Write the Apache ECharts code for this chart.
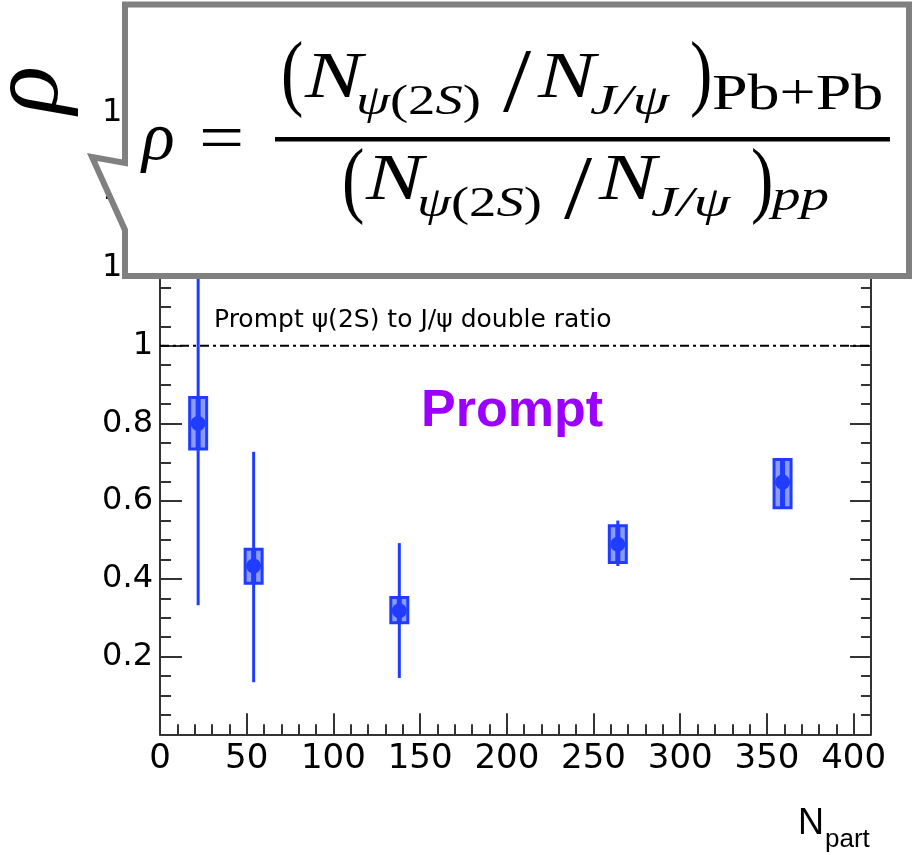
<!DOCTYPE html>
<html>
<head>
<meta charset="utf-8">
<script src="https://cdn.jsdelivr.net/npm/echarts@6/dist/echarts.min.js"></script>
<style>
  html, body { margin: 0; padding: 0; background: #fff; }
  #chart { width: 912px; height: 855px; }
</style>
</head>
<body>
<div id="chart"></div>
<script>
// Prompt psi(2S) to J/psi double ratio versus centrality (N_part)
const npart    = [22, 54, 138, 264, 359];
const rho      = [0.800, 0.433, 0.318, 0.489, 0.649];
// statistical uncertainty (vertical bar ends)
const statLow  = [0.332, 0.134, 0.145, 0.433, 0.600];
const statHigh = [1.270, 0.727, 0.492, 0.550, 0.698];
// systematic uncertainty (box ends)
const sysLow   = [0.734, 0.389, 0.287, 0.442, 0.583];
const sysHigh  = [0.867, 0.476, 0.352, 0.537, 0.707];

const xTickValues = [0, 50, 100, 150, 200, 250, 300, 350, 400];
const xTickLabels = ['0', '50', '100', '150', '200', '250', '300', '350', '400'];
const yTickValues = [0.2, 0.4, 0.6, 0.8, 1.0, 1.2, 1.4, 1.6];
const yTickLabels = ['0.2', '0.4', '0.6', '0.8', '1', '1.2', '1.4', '1.6'];

const refLevel = 1;
const xRange = [0, 410];
const yRange = [0, 1.7];

const DARK = '#1f3cff';
const LIGHT = '#8c9bff';
const AXIS = '#333';

function tickFormatter(values, labels) {
  return function (v) {
    const i = values.findIndex(t => Math.abs(t - v) < 1e-6);
    return i >= 0 ? labels[i] : '';
  };
}

const points = npart.map((n, i) => [n, rho[i], statLow[i], statHigh[i], sysLow[i], sysHigh[i]]);
const refLine = [[xRange[0], refLevel], [xRange[1], refLevel]];

function renderPoint(params, api) {
  const x = api.value(0);
  const c = api.coord([x, api.value(1)]);
  const sLo = api.coord([x, api.value(2)]);
  const sHi = api.coord([x, api.value(3)]);
  const bLo = api.coord([x, api.value(4)]);
  const bHi = api.coord([x, api.value(5)]);
  const hw = 8.5;
  return {
    type: 'group',
    children: [
      { type: 'rect', shape: { x: c[0] - hw, y: bHi[1], width: 2 * hw, height: bLo[1] - bHi[1] },
        style: { fill: LIGHT, stroke: DARK, lineWidth: 3 } },
      { type: 'line', shape: { x1: c[0], y1: sHi[1], x2: c[0], y2: sLo[1] },
        style: { stroke: DARK, lineWidth: 3 } },
      { type: 'line', shape: { x1: c[0], y1: bHi[1], x2: c[0], y2: bLo[1] },
        style: { stroke: DARK, lineWidth: 5 } },
      { type: 'circle', shape: { cx: c[0], cy: c[1], r: 7.5 }, style: { fill: DARK } }
    ]
  };
}

// text piece placed by its left edge and baseline
function piece(text, x, baseline, size, opts) {
  opts = opts || {};
  const family = opts.family || '"Liberation Serif"';
  const fontStyle = opts.italic ? 'italic ' : '';
  const weight = opts.bold ? 'bold ' : '';
  const mid = opts.mid != null ? opts.mid : 0.34;
  const el = {
    type: 'text',
    x: x,
    y: baseline - mid * size,
    scaleX: opts.sx || 1,
    z: 102,
    style: {
      text: text,
      font: fontStyle + weight + size + 'px ' + family,
      fill: opts.color || '#000',
      align: opts.align || 'left',
      textAlign: opts.align || 'left',
      verticalAlign: 'middle',
      textVerticalAlign: 'middle'
    }
  };
  if (opts.rich) {
    el.style.rich = opts.rich;
  }
  return el;
}

const SX = 1.3;
function subPsi2S(x, base) {
  return piece('{i|ψ}{u|(2}{i|S}{u|)}', x, base, 42, {
    sx: SX,
    rich: {
      i: { fontFamily: 'Liberation Serif', fontStyle: 'italic', fontSize: 42, fill: '#000' },
      u: { fontFamily: 'Liberation Serif', fontSize: 42, fill: '#000' }
    }
  });
}

function ratioRow(dx, dy, parenDy, tail) {
  const els = [
    piece('(', 281 + dx, 106 + dy + parenDy, 84, { sx: 0.8 }),
    piece('N', 305 + dx, 102 + dy, 66, { italic: true, sx: SX }),
    subPsi2S(356 + dx, 117 + dy),
    piece('/', 503 + dx, 118 + dy + parenDy, 92, { sx: 1.1 }),
    piece('N', 538 + dx, 102 + dy, 66, { italic: true, sx: SX }),
    piece('J/ψ', 590 + dx, 117 + dy, 42, { italic: true, sx: 1.4 }),
    piece(')', 690 + dx, 106 + dy + parenDy, 84, { sx: 0.8 })
  ];
  return els.concat(tail);
}

const formula = [].concat(
  [
    piece('ρ', 142, 164, 68, { italic: true }),
    piece('=', 199, 165, 68, { sx: 1.18 }),
    { type: 'rect', z: 102, shape: { x: 275, y: 137, width: 615, height: 4.5 }, style: { fill: '#000' } }
  ],
  ratioRow(0, 0, 0, [piece('Pb+Pb', 712, 113, 50, { sx: 1.28 })]),
  ratioRow(61, 102, 5, [piece('pp', 772, 213, 44, { italic: true, sx: SX })])
);

const callout = {
  type: 'polygon',
  z: 100,
  shape: {
    points: [[125, 4.5], [909, 4.5], [909, 276], [125, 276], [125, 230], [92, 157], [125, 163]]
  },
  style: { fill: '#fff', stroke: '#808080', lineWidth: 6, lineJoin: 'miter' }
};

const chart = echarts.init(document.getElementById('chart'), null, { renderer: 'canvas' });

chart.setOption({
  animation: false,
  backgroundColor: '#fff',
  grid: { left: 160, right: 41, top: 73.7, bottom: 120.7, containLabel: false },
  xAxis: {
    type: 'value',
    min: xRange[0], max: xRange[1], interval: 50,
    axisLine: { show: true, lineStyle: { color: AXIS, width: 2 } },
    axisTick: { show: true, inside: true, length: 21, lineStyle: { color: AXIS, width: 2 } },
    minorTick: { show: true, splitNumber: 5, length: 10, lineStyle: { color: AXIS, width: 2 } },
    splitLine: { show: false },
    axisLabel: {
      margin: 8, fontSize: 34, fontFamily: 'DejaVu Sans', color: '#000',
      showMaxLabel: false, formatter: tickFormatter(xTickValues, xTickLabels)
    }
  },
  yAxis: [
    {
      type: 'value', position: 'left',
      min: yRange[0], max: yRange[1], interval: 0.2,
      axisLine: { show: true, lineStyle: { color: AXIS, width: 2 } },
      axisTick: { show: true, inside: true, length: 22, lineStyle: { color: AXIS, width: 2 } },
      minorTick: { show: true, splitNumber: 4, length: 11, lineStyle: { color: AXIS, width: 2 } },
      splitLine: { show: false },
      axisLabel: {
        margin: 7, fontSize: 32, fontFamily: 'DejaVu Sans', color: '#000',
        showMaxLabel: false, showMinLabel: false,
        formatter: tickFormatter(yTickValues, yTickLabels)
      }
    },
    {
      type: 'value', position: 'right',
      min: yRange[0], max: yRange[1], interval: 0.2,
      axisLine: { show: true, lineStyle: { color: AXIS, width: 2 } },
      axisTick: { show: true, inside: true, length: 21, lineStyle: { color: AXIS, width: 2 } },
      minorTick: { show: true, splitNumber: 4, length: 10, lineStyle: { color: AXIS, width: 2 } },
      splitLine: { show: false },
      axisLabel: { show: false }
    }
  ],
  series: [
    {
      type: 'line',
      data: refLine,
      showSymbol: false,
      silent: true,
      z: 1,
      lineStyle: { color: '#000', width: 2, type: [9, 4, 3, 4] }
    },
    {
      type: 'custom',
      data: points,
      renderItem: renderPoint,
      clip: false,
      z: 3
    }
  ],
  graphic: [
    // axis titles
    {
      type: 'text', x: 31, y: 90, rotation: Math.PI / 2, z: 50,
      style: {
        text: 'ρ', font: 'italic 100px "Liberation Serif"', fill: '#000',
        align: 'center', textAlign: 'center', verticalAlign: 'middle', textVerticalAlign: 'middle'
      }
    },
    piece('N', 798, 837, 36, { family: '"Liberation Sans"', mid: 0.3465 }),
    piece('part', 825, 849, 26, { family: '"Liberation Sans"', mid: 0.3465 }),
    // in-frame annotations
    piece('Prompt ψ(2S) to J/ψ double ratio', 214, 329, 25, { family: '"DejaVu Sans"', mid: 0.346 }),
    piece('Prompt', 421, 430, 52, { family: '"Liberation Sans"', bold: true, color: '#9b00ff', mid: 0.3465 }),
    // definition box
    callout
  ].concat(formula)
});
</script>
</body>
</html>
